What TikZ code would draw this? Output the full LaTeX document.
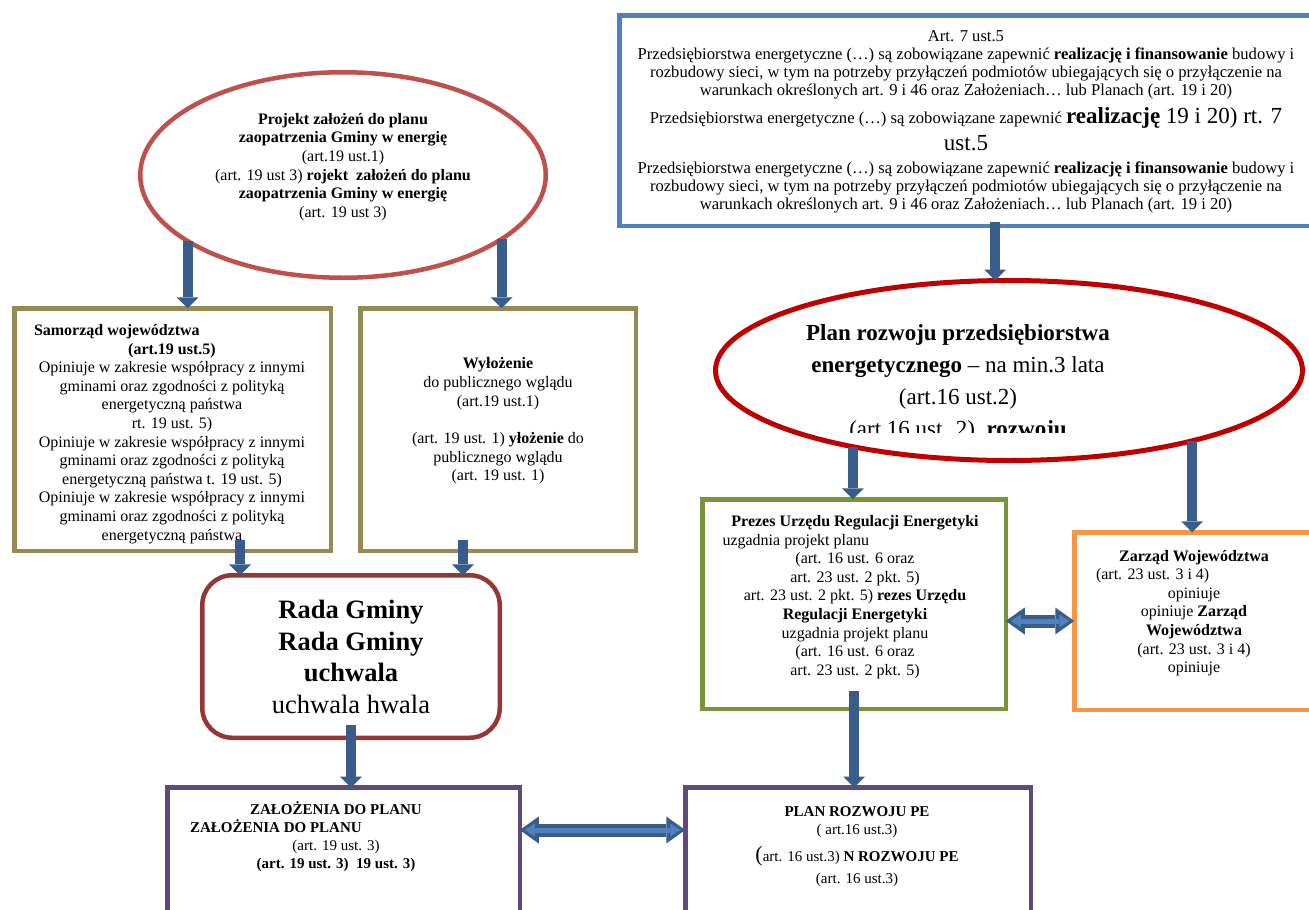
\documentclass[tikz,border=0pt]{standalone}
\usepackage{fontspec}
\setmainfont{Liberation Serif}
\usetikzlibrary{arrows.meta,shapes.geometric}

\definecolor{projred}{HTML}{C0504D}
\definecolor{planred}{HTML}{C00000}
\definecolor{artblue}{HTML}{4F81BD}
\definecolor{olivebox}{HTML}{948A54}
\definecolor{radared}{HTML}{953735}
\definecolor{urzgreen}{HTML}{77933C}
\definecolor{zarzorange}{HTML}{F79646}
\definecolor{wynikpurple}{HTML}{604A7B}
\definecolor{arrowdark}{HTML}{385D8A}
\definecolor{arrowlight}{HTML}{4F81BD}

\tikzset{
    box/.style={draw, line width=4.5pt, outer sep=0pt, inner sep=0pt},
    oval/.style={ellipse, draw, line width=4.5pt, outer sep=0pt, inner sep=0pt},
    txt/.style={align=center, inner sep=0pt, font=\fontsize{16}{18.6}\selectfont},
    blk/.style={draw=arrowdark, line width=10pt,
        -{Triangle[width=22pt,length=11pt,line width=0pt]}},
    dbl/.style={draw=arrowdark, line width=13pt,
        {Triangle[width=27pt,length=19pt,line width=0pt]}-{Triangle[width=27pt,length=19pt,line width=0pt]},
        postaction={draw=arrowlight, line width=5pt, shorten <=5pt, shorten >=5pt,
        {Triangle[width=13pt,length=10pt,line width=0pt]}-{Triangle[width=13pt,length=10pt,line width=0pt]}}}
}

\begin{document}
\begin{tikzpicture}[x=1pt,y=-1pt]
    \useasboundingbox (0,0) rectangle (1309,910);
    \clip (0,0) rectangle (1309,910);
    \fill[white] (0,0) rectangle (1309,910);

    \node[oval, draw=projred, minimum width=405.5pt, minimum height=205.5pt] (proj) at (343,175) {};
    \node[box, draw=artblue, minimum width=693.5pt, minimum height=210.5pt] (art7) at (966,120.5) {};
    \node[oval, draw=planred, line width=5pt, minimum width=587pt, minimum height=180pt] (plan) at (1009,370.5) {};
    \node[box, draw=olivebox, minimum width=316.5pt, minimum height=242.5pt] (sam) at (172.5,429.5) {};
    \node[box, draw=olivebox, minimum width=275.5pt, minimum height=242.5pt] (wyl) at (498,429.5) {};
    \node[box, draw=radared, rounded corners=30pt, minimum width=297.5pt, minimum height=162.5pt] (rada) at (351,656.5) {};
    \node[box, draw=urzgreen, minimum width=303.5pt, minimum height=209.5pt] (prez) at (854,604) {};
    \node[box, draw=zarzorange, minimum width=239.5pt, minimum height=177.5pt] (zarz) at (1194,621) {};
    \node[box, draw=wynikpurple, minimum width=352.5pt, minimum height=210pt] (zal) at (343.5,892.5) {};
    \node[box, draw=wynikpurple, minimum width=345.5pt, minimum height=210pt] (pe) at (858,892.5) {};

    \node[txt, font=\fontsize{16.6}{18}\selectfont] (art7t) at (966,122) {Art. 7 ust.5\\
        Przedsiębiorstwa energetyczne (…) są zobowiązane zapewnić \textbf{realizację i finansowanie} budowy i\\
        rozbudowy sieci, w tym na potrzeby przyłączeń podmiotów ubiegających się o przyłączenie na\\
        warunkach określonych art. 9 i 46 oraz Założeniach… lub Planach (art. 19 i 20)\\[7pt]
        Przedsiębiorstwa energetyczne (…) są zobowiązane zapewnić {\fontsize{23}{26}\selectfont\textbf{realizację} 19 i 20) rt. 7}\\[6pt]
        {\fontsize{23}{26}\selectfont ust.5}\\[5pt]
        Przedsiębiorstwa energetyczne (…) są zobowiązane zapewnić \textbf{realizację i finansowanie} budowy i\\
        rozbudowy sieci, w tym na potrzeby przyłączeń podmiotów ubiegających się o przyłączenie na\\
        warunkach określonych art. 9 i 46 oraz Założeniach… lub Planach (art. 19 i 20)};
    \node[txt] (projt) at (343,167) {\textbf{Projekt założeń do planu}\\
        \textbf{zaopatrzenia Gminy w energię}\\
        (art.19 ust.1)\\
        (art. 19 ust 3) \textbf{rojekt\ \ założeń do planu}\\
        \textbf{zaopatrzenia Gminy w energię}\\
        (art. 19 ust 3)};
    \node[txt] (samt) at (172,434) {\makebox[276pt][l]{\textbf{Samorząd województwa}}\\
        \textbf{(art.19 ust.5)}\\
        Opiniuje w zakresie współpracy z innymi\\
        gminami oraz zgodności z polityką\\
        energetyczną państwa\\
        rt. 19 ust. 5)\\
        Opiniuje w zakresie współpracy z innymi\\
        gminami oraz zgodności z polityką\\
        energetyczną państwa t. 19 ust. 5)\\
        Opiniuje w zakresie współpracy z innymi\\
        gminami oraz zgodności z polityką\\
        energetyczną państwa};
    \node[txt] (wylt) at (498,421) {\textbf{Wyłożenie}\\
        do publicznego wglądu\\
        (art.19 ust.1)\\[19pt]
        (art. 19 ust. 1) \textbf{yłożenie} do\\
        publicznego wglądu\\
        (art. 19 ust. 1)};
    \node[txt, font=\fontsize{26.5}{31.5}\selectfont] (radat) at (351,657) {\textbf{Rada Gminy}\\
        \textbf{Rada Gminy}\\
        \textbf{uchwala}\\
        uchwala hwala};
    \begin{scope}
        \clip (700,270) rectangle (1309,432);
        \node[txt, font=\fontsize{23}{32}\selectfont] (plant) at (958,383) {\textbf{Plan rozwoju przedsiębiorstwa}\\
            \textbf{energetycznego} – na min.3 lata\\
            (art.16 ust.2)\\
            (art.16 ust. 2)\ \ \textbf{rozwoju}};
    \end{scope}
    \node[txt] (prezt) at (855,597) {\textbf{Prezes Urzędu Regulacji Energetyki}\\
        \makebox[265pt][l]{uzgadnia projekt planu}\\
        (art. 16 ust. 6 oraz\\
        art. 23 ust. 2 pkt. 5)\\
        art. 23 ust. 2 pkt. 5) \textbf{rezes Urzędu}\\
        \textbf{Regulacji Energetyki}\\
        uzgadnia projekt planu\\
        (art. 16 ust. 6 oraz\\
        art. 23 ust. 2 pkt. 5)};
    \node[txt] (zarzt) at (1194,613) {\textbf{Zarząd Województwa}\\
        \makebox[196pt][l]{(art. 23 ust. 3 i 4)}\\
        opiniuje\\
        opiniuje \textbf{Zarząd}\\
        \textbf{Województwa}\\
        (art. 23 ust. 3 i 4)\\
        opiniuje};
    \node[txt, font=\fontsize{15}{18}\selectfont] (zalt) at (336,837) {\textbf{ZAŁOŻENIA DO PLANU}\\
        \makebox[292pt][l]{\textbf{ZAŁOŻENIA DO PLANU}}\\
        (art. 19 ust. 3)\\
        \textbf{(art. 19 ust. 3)\ \ 19 ust. 3)}};
    \node[txt, font=\fontsize{15}{18}\selectfont] (pet) at (857,846.5) {\textbf{PLAN ROZWOJU PE}\\
        ( art.16 ust.3)\\[7pt]
        {\fontsize{22}{22}\selectfont(}art. 16 ust.3) \textbf{N ROZWOJU PE}\\[4pt]
        (art. 16 ust.3)};

    \draw[blk] (proj.203) -- (proj.203 |- sam.north);
    \draw[blk] (proj.338) -- (proj.338 |- wyl.north);
    \draw[blk] ([xshift=29pt,yshift=4pt]art7.south) -- ([xshift=29pt]art7.south |- plan.north);
    \draw[blk] ([xshift=67.5pt,yshift=11pt]sam.south) -- ([xshift=67.5pt]sam.south |- rada.north);
    \draw[blk] ([xshift=-35pt,yshift=11pt]wyl.south) -- ([xshift=-35pt]wyl.south |- rada.north);
    \draw[blk] ([yshift=13pt]rada.south) -- (rada.south |- zal.north);
    \draw[blk] (plan.206) -- (plan.206 |- prez.north);
    \draw[blk] (plan.339) -- (plan.339 |- zarz.north);
    \draw[blk] ([yshift=18pt]prez.south) -- (prez.south |- pe.north);
    \draw[dbl] (prez.east |- zarz.west) -- (zarz.west);
    \draw[dbl] ([yshift=62.5pt]zal.east) -- ([yshift=62.5pt]pe.west);
\end{tikzpicture}
\end{document}
